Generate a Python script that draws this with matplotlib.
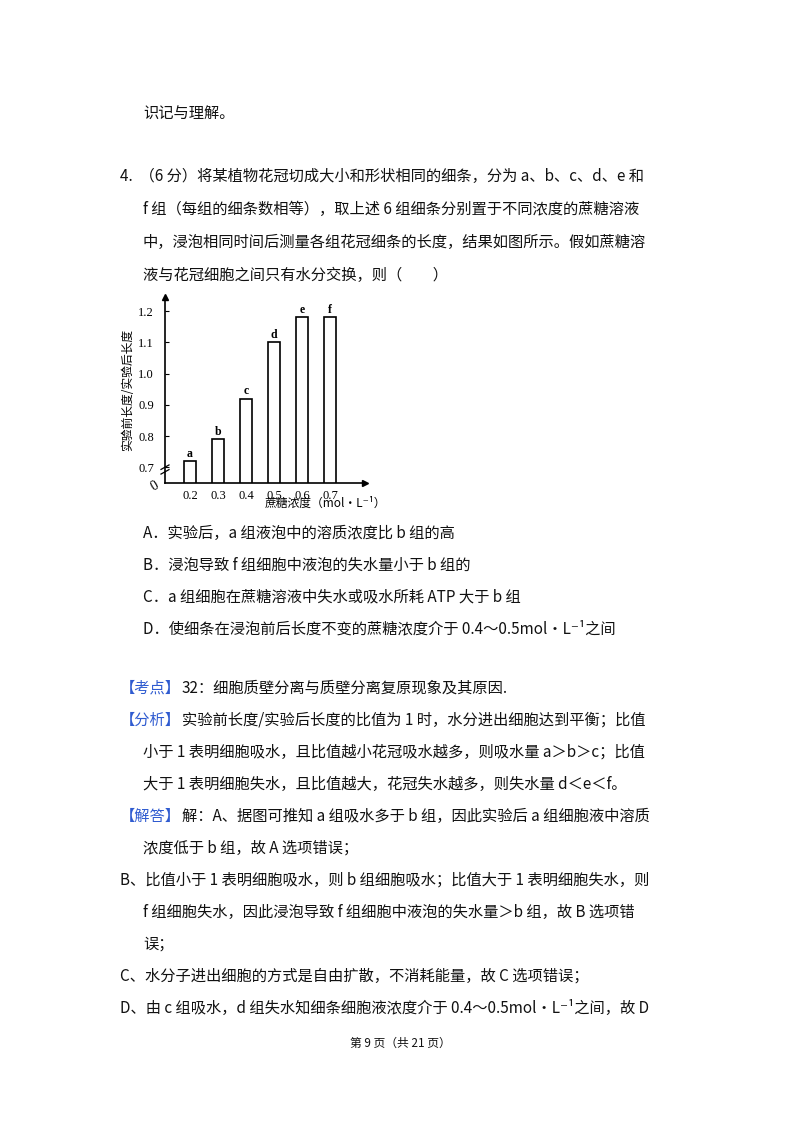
import matplotlib
matplotlib.use("Agg")
import matplotlib.pyplot as plt

plt.rcParams["font.family"] = ["Noto Sans CJK SC", "DejaVu Sans"]

groups = ["a", "b", "c", "d", "e", "f"]
conc = [0.2, 0.3, 0.4, 0.5, 0.6, 0.7]
ratio = [0.72, 0.79, 0.92, 1.10, 1.18, 1.18]
yticks = [0.7, 0.8, 0.9, 1.0, 1.1, 1.2]

BLUE = "#2F5BD0"
FG = "#111111"
FS = 11

fig = plt.figure(figsize=(8, 11.32), dpi=100)

def line(x, y, s, **kw):
    fig.text(x / 800, 1 - y / 1132, s, fontsize=kw.pop("fontsize", FS), color=kw.pop("color", FG),
             va="center", ha=kw.pop("ha", "left"), **kw)

line(143, 113, "识记与理解。")
line(120, 176, "4.  （6 分）将某植物花冠切成大小和形状相同的细条，分为 a、b、c、d、e 和")
line(143, 209, "f 组（每组的细条数相等），取上述 6 组细条分别置于不同浓度的蔗糖溶液")
line(143, 242, "中，浸泡相同时间后测量各组花冠细条的长度，结果如图所示。假如蔗糖溶")
line(143, 275, "液与花冠细胞之间只有水分交换，则（　　）")

line(143, 533, "A．实验后，a 组液泡中的溶质浓度比 b 组的高")
line(143, 565, "B．浸泡导致 f 组细胞中液泡的失水量小于 b 组的")
line(143, 597, "C．a 组细胞在蔗糖溶液中失水或吸水所耗 ATP 大于 b 组")
line(143, 629, "D．使细条在浸泡前后长度不变的蔗糖浓度介于 0.4～0.5mol•L⁻¹之间")

line(120, 688, "【考点】", color=BLUE)
line(182, 688, "32：细胞质壁分离与质壁分离复原现象及其原因.")
line(120, 720, "【分析】", color=BLUE)
line(182, 720, "实验前长度/实验后长度的比值为 1 时，水分进出细胞达到平衡；比值")
line(143, 752, "小于 1 表明细胞吸水，且比值越小花冠吸水越多，则吸水量 a＞b＞c；比值")
line(143, 784, "大于 1 表明细胞失水，且比值越大，花冠失水越多，则失水量 d＜e＜f。")
line(120, 816, "【解答】", color=BLUE)
line(182, 816, "解：A、据图可推知 a 组吸水多于 b 组，因此实验后 a 组细胞液中溶质")
line(143, 848, "浓度低于 b 组，故 A 选项错误；")
line(120, 880, "B、比值小于 1 表明细胞吸水，则 b 组细胞吸水；比值大于 1 表明细胞失水，则")
line(143, 912, "f 组细胞失水，因此浸泡导致 f 组细胞中液泡的失水量＞b 组，故 B 选项错")
line(143, 944, "误；")
line(120, 976, "C、水分子进出细胞的方式是自由扩散，不消耗能量，故 C 选项错误；")
line(120, 1008, "D、由 c 组吸水，d 组失水知细条细胞液浓度介于 0.4～0.5mol•L⁻¹之间，故 D")
line(400, 1043, "第 9 页（共 21 页）", ha="center", fontsize=8.5)

# chart
ax = fig.add_axes([165 / 800, 1 - 483 / 1132, 200 / 800, 186 / 1132])
ax.bar(conc, ratio, width=0.043, color="white", edgecolor="black", linewidth=1.2)
for x, y, g in zip(conc, ratio, groups):
    ax.text(x, y + 0.005, g, ha="center", va="bottom", fontsize=8.5,
            family="Liberation Serif", fontweight="bold")
ax.set_xlim(0.111, 0.825)
ax.set_ylim(0.65, 1.245)
ax.set_xticks(conc)
ax.set_xticklabels([f"{c:.1f}" for c in conc], family="Liberation Serif", fontsize=9)
ax.set_yticks(yticks)
ax.set_yticklabels([f"{t:.1f}" for t in yticks], family="Liberation Serif", fontsize=9)
ax.tick_params(axis="y", direction="in", length=3, pad=8)
ax.tick_params(axis="x", length=0, pad=5)
for s in ["top", "right"]:
    ax.spines[s].set_visible(False)
ax.spines["left"].set_linewidth(1.2)
ax.spines["bottom"].set_linewidth(1.2)
ax.plot([0], [1], marker="^", color="black", markersize=5, transform=ax.transAxes, clip_on=False)
ax.plot([1], [0], marker=">", color="black", markersize=5, transform=ax.transAxes, clip_on=False)
for dy in (0.06, 0.085):
    ax.plot([-0.02, 0.02], [dy - 0.012, dy + 0.012], color="black", lw=0.9,
            transform=ax.transAxes, clip_on=False)
ax.text(-0.05, -0.02, "0", transform=ax.transAxes, fontsize=10, family="Liberation Serif",
        rotation=30, ha="center", va="center")
ax.set_ylabel("实验前长度/实验后长度", fontsize=8.5, labelpad=3, family="Noto Sans CJK SC")
ax.text(0.5, -0.11, "蔗糖浓度（mol·L⁻¹）", transform=ax.transAxes, fontsize=8.5,
        ha="left", va="center", family=["Noto Sans CJK SC", "DejaVu Sans"])

fig.savefig("out.png", dpi=100, facecolor="white")
